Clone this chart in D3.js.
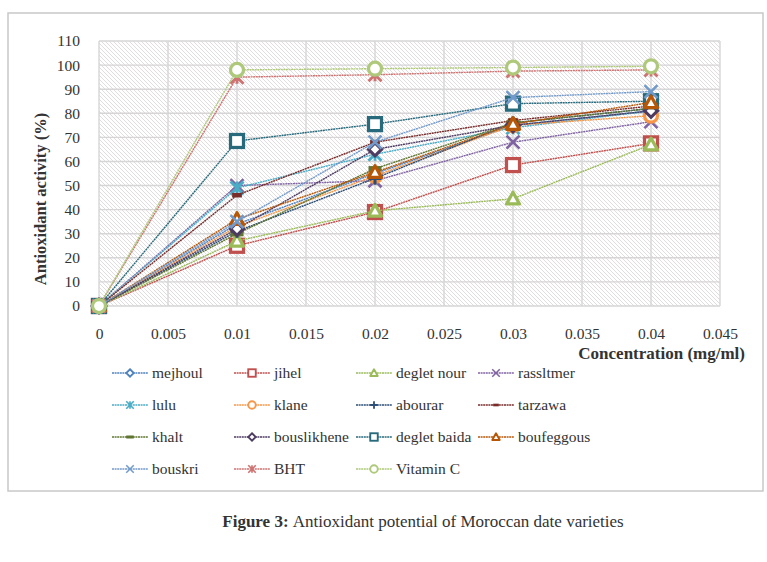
<!DOCTYPE html>
<html>
<head>
<meta charset="utf-8">
<script src="https://cdn.jsdelivr.net/npm/d3@7"></script>
<style>
  body { margin: 0; background: #fff; }
  text { font-family: "Liberation Serif", "Times New Roman", serif; fill: #333; }
</style>
</head>
<body>
<div id="chart"></div>
<script>
// concentrations (mg/ml) and antioxidant activity (%) per variety
let concentrations = [0, 0.01, 0.02, 0.03, 0.04];

let mejhoul     = [0, 34, 55, 75, 81];
let jihel       = [0, 25, 39, 58.5, 67.5];
let degletNour  = [0, 27, 39.5, 44.5, 67];
let rassltmer   = [0, 50, 52, 68, 76.5];
let lulu        = [0, 49, 63, 74, 81];
let klane       = [0, 33, 54, 75, 79];
let abourar     = [0, 31, 53, 76, 82];
let tarzawa     = [0, 46, 68, 77, 83];
let khalt       = [0, 30, 57, 76, 82];
let bouslikhene = [0, 32, 65, 75, 81];
let degletBaida = [0, 68.5, 75.5, 84, 85];
let boufeggous  = [0, 36, 55.5, 75.5, 84.5];
let bouskri     = [0, 35, 68, 86.5, 89];
let bht         = [0, 95, 96, 97.5, 98];
let vitaminC    = [0, 98, 98.5, 99, 99.5];

let seriesNames = ["mejhoul", "jihel", "deglet nour", "rassltmer", "lulu", "klane", "abourar",
  "tarzawa", "khalt", "bouslikhene", "deglet baida", "boufeggous", "bouskri", "BHT", "Vitamin C"];
let seriesValues = [mejhoul, jihel, degletNour, rassltmer, lulu, klane, abourar,
  tarzawa, khalt, bouslikhene, degletBaida, boufeggous, bouskri, bht, vitaminC];

let xTicks = [0, 0.005, 0.01, 0.015, 0.02, 0.025, 0.03, 0.035, 0.04, 0.045];
let yTicks = [0, 10, 20, 30, 40, 50, 60, 70, 80, 90, 100, 110];

// look of each series (Excel style)
let colors = ["#4F81BD", "#C0504D", "#9BBB59", "#8064A2", "#4BACC6", "#F79646", "#2C4D75",
  "#772C2A", "#5F7530", "#4D3B62", "#276A7C", "#B65708", "#729ACA", "#CD7371", "#AFC97A"];
let markers = ["diamond", "square", "triangle", "x", "star", "circle", "plus",
  "dash", "bar", "diamond", "square", "triangle", "x", "star", "circle"];

let w = 767, h = 562;
let plot = {left: 99, top: 41, right: 720, bottom: 306};

let svg = d3.select("#chart").append("svg")
  .attr("width", w)
  .attr("height", h);

// hatch pattern for the plot area
let defs = svg.append("defs");
let pat = defs.append("pattern")
  .attr("id", "hatch")
  .attr("patternUnits", "userSpaceOnUse")
  .attr("width", 4).attr("height", 4);
pat.append("rect").attr("width", 4).attr("height", 4).attr("fill", "#fff");
pat.append("path")
  .attr("d", "M-1,-1 L5,5 M-1,3 L1,5 M3,-1 L5,1")
  .attr("stroke", "#dcd8dc")
  .attr("stroke-width", 0.9);

// outer chart border
svg.append("rect")
  .attr("x", 8).attr("y", 13)
  .attr("width", 755).attr("height", 478)
  .attr("fill", "none")
  .attr("stroke", "#c8c8c8")
  .attr("stroke-width", 1.5);

let x = d3.scaleLinear().domain([0, 0.045]).range([plot.left, plot.right]);
let y = d3.scaleLinear().domain([0, 110]).range([plot.bottom, plot.top]);

svg.append("rect")
  .attr("x", plot.left).attr("y", plot.top)
  .attr("width", plot.right - plot.left).attr("height", plot.bottom - plot.top)
  .attr("fill", "url(#hatch)");

// gridlines
let grid = svg.append("g");
grid.selectAll(".hg").data(yTicks).enter().append("line")
  .attr("x1", plot.left).attr("x2", plot.right)
  .attr("y1", d => y(d)).attr("y2", d => y(d))
  .attr("stroke", "#d6d6d6").attr("stroke-width", 1.4);
grid.selectAll(".vg").data(xTicks).enter().append("line")
  .attr("y1", plot.top).attr("y2", plot.bottom)
  .attr("x1", d => x(d)).attr("x2", d => x(d))
  .attr("stroke", "#d6d6d6").attr("stroke-width", 1.4);

// axes (labels only, Excel hides the axis lines here)
let yAxis = svg.append("g")
  .attr("transform", "translate(" + (plot.left - 9) + ",0)")
  .call(d3.axisLeft(y).tickValues(yTicks).tickSize(0).tickPadding(10));
let xAxis = svg.append("g")
  .attr("transform", "translate(0," + (plot.bottom + 16) + ")")
  .call(d3.axisBottom(x).tickValues(xTicks).tickSize(0).tickPadding(6)
    .tickFormat(d => d3.format("")(+d.toFixed(3))));
[yAxis, xAxis].forEach(a => {
  a.select(".domain").remove();
  a.selectAll("text")
    .style("font-family", "'Liberation Serif', serif")
    .style("font-size", "15.5px")
    .attr("fill", "#404040");
});

// axis titles
svg.append("text")
  .attr("transform", "translate(46,199) rotate(-90)")
  .attr("text-anchor", "middle")
  .style("font-size", "16.5px").style("font-weight", "bold")
  .attr("fill", "#404040")
  .text("Antioxidant  activity (%)");
svg.append("text")
  .attr("x", 745).attr("y", 359)
  .attr("text-anchor", "end")
  .style("font-size", "17px").style("font-weight", "bold")
  .attr("fill", "#404040")
  .text("Concentration (mg/ml)");

// draw one marker shape centred on (0,0)
function drawMarker(g, type, color, s) {
  let r = s / 2;
  if (type == "square") {
    g.append("rect").attr("x", -r).attr("y", -r).attr("width", s).attr("height", s)
      .attr("fill", "#fff").attr("stroke", color).attr("stroke-width", s * 0.25);
  } else if (type == "circle") {
    g.append("circle").attr("r", r)
      .attr("fill", "#fff").attr("stroke", color).attr("stroke-width", s * 0.25);
  } else if (type == "diamond") {
    g.append("path").attr("d", `M0,${-r}L${r},0L0,${r}L${-r},0Z`)
      .attr("fill", "#fff").attr("stroke", color).attr("stroke-width", s * 0.24);
  } else if (type == "triangle") {
    g.append("path").attr("d", `M0,${-r}L${r},${r * 0.8}L${-r},${r * 0.8}Z`)
      .attr("fill", "#fff").attr("stroke", color).attr("stroke-width", s * 0.25)
      .attr("stroke-linejoin", "round");
  } else if (type == "x") {
    g.append("path").attr("d", `M${-r},${-r}L${r},${r}M${r},${-r}L${-r},${r}`)
      .attr("stroke", color).attr("stroke-width", s * 0.2);
  } else if (type == "star") {
    g.append("path").attr("d", `M${-r},${-r}L${r},${r}M${r},${-r}L${-r},${r}M0,${-r}L0,${r}`)
      .attr("stroke", color).attr("stroke-width", s * 0.22);
  } else if (type == "plus") {
    g.append("path").attr("d", `M${-r},0L${r},0M0,${-r}L0,${r}`)
      .attr("stroke", color).attr("stroke-width", s * 0.24);
  } else if (type == "dash") {
    g.append("rect").attr("x", -r * 0.75).attr("y", -r * 0.35)
      .attr("width", r * 1.5).attr("height", r * 0.7).attr("fill", color);
  } else if (type == "bar") {
    g.append("rect").attr("x", -r).attr("y", -r * 0.4)
      .attr("width", s).attr("height", r * 0.8).attr("fill", color);
  }
}

let line = d3.line()
  .x((d, i) => x(concentrations[i]))
  .y(d => y(d));

// series: line then markers, in order so the last ones sit on top
seriesValues.forEach((vals, k) => {
  let g = svg.append("g");
  g.append("path")
    .attr("d", line(vals))
    .attr("fill", "none")
    .attr("stroke", colors[k])
    .attr("stroke-width", 1.4)
    .attr("stroke-dasharray", "2,0.6");
  vals.forEach((v, i) => {
    let mg = g.append("g")
      .attr("transform", "translate(" + x(concentrations[i]) + "," + y(v) + ")");
    drawMarker(mg, markers[k], colors[k], 13);
  });
});

// legend: 4 columns
let legend = svg.append("g");
seriesNames.forEach((name, k) => {
  let col = k % 4, row = Math.floor(k / 4);
  let lx = 112 + col * 122, ly = 373 + row * 32;
  let lg = legend.append("g").attr("transform", "translate(" + lx + "," + ly + ")");
  lg.append("line")
    .attr("x1", 0).attr("x2", 36).attr("y1", 0).attr("y2", 0)
    .attr("stroke", colors[k]).attr("stroke-width", 1.3)
    .attr("stroke-dasharray", "2,0.6");
  let mg = lg.append("g").attr("transform", "translate(18,0)");
  drawMarker(mg, markers[k], colors[k], 7.5);
  lg.append("text")
    .attr("x", 40).attr("y", 5)
    .style("font-size", "15.5px")
    .attr("fill", "#404040")
    .text(name);
});

// figure caption
let cap = svg.append("text")
  .attr("x", 423).attr("y", 527)
  .attr("text-anchor", "middle")
  .style("font-size", "17px")
  .attr("fill", "#000");
cap.append("tspan").style("font-weight", "bold").text("Figure 3: ");
cap.append("tspan").text("Antioxidant potential of Moroccan date varieties");
</script>
</body>
</html>
